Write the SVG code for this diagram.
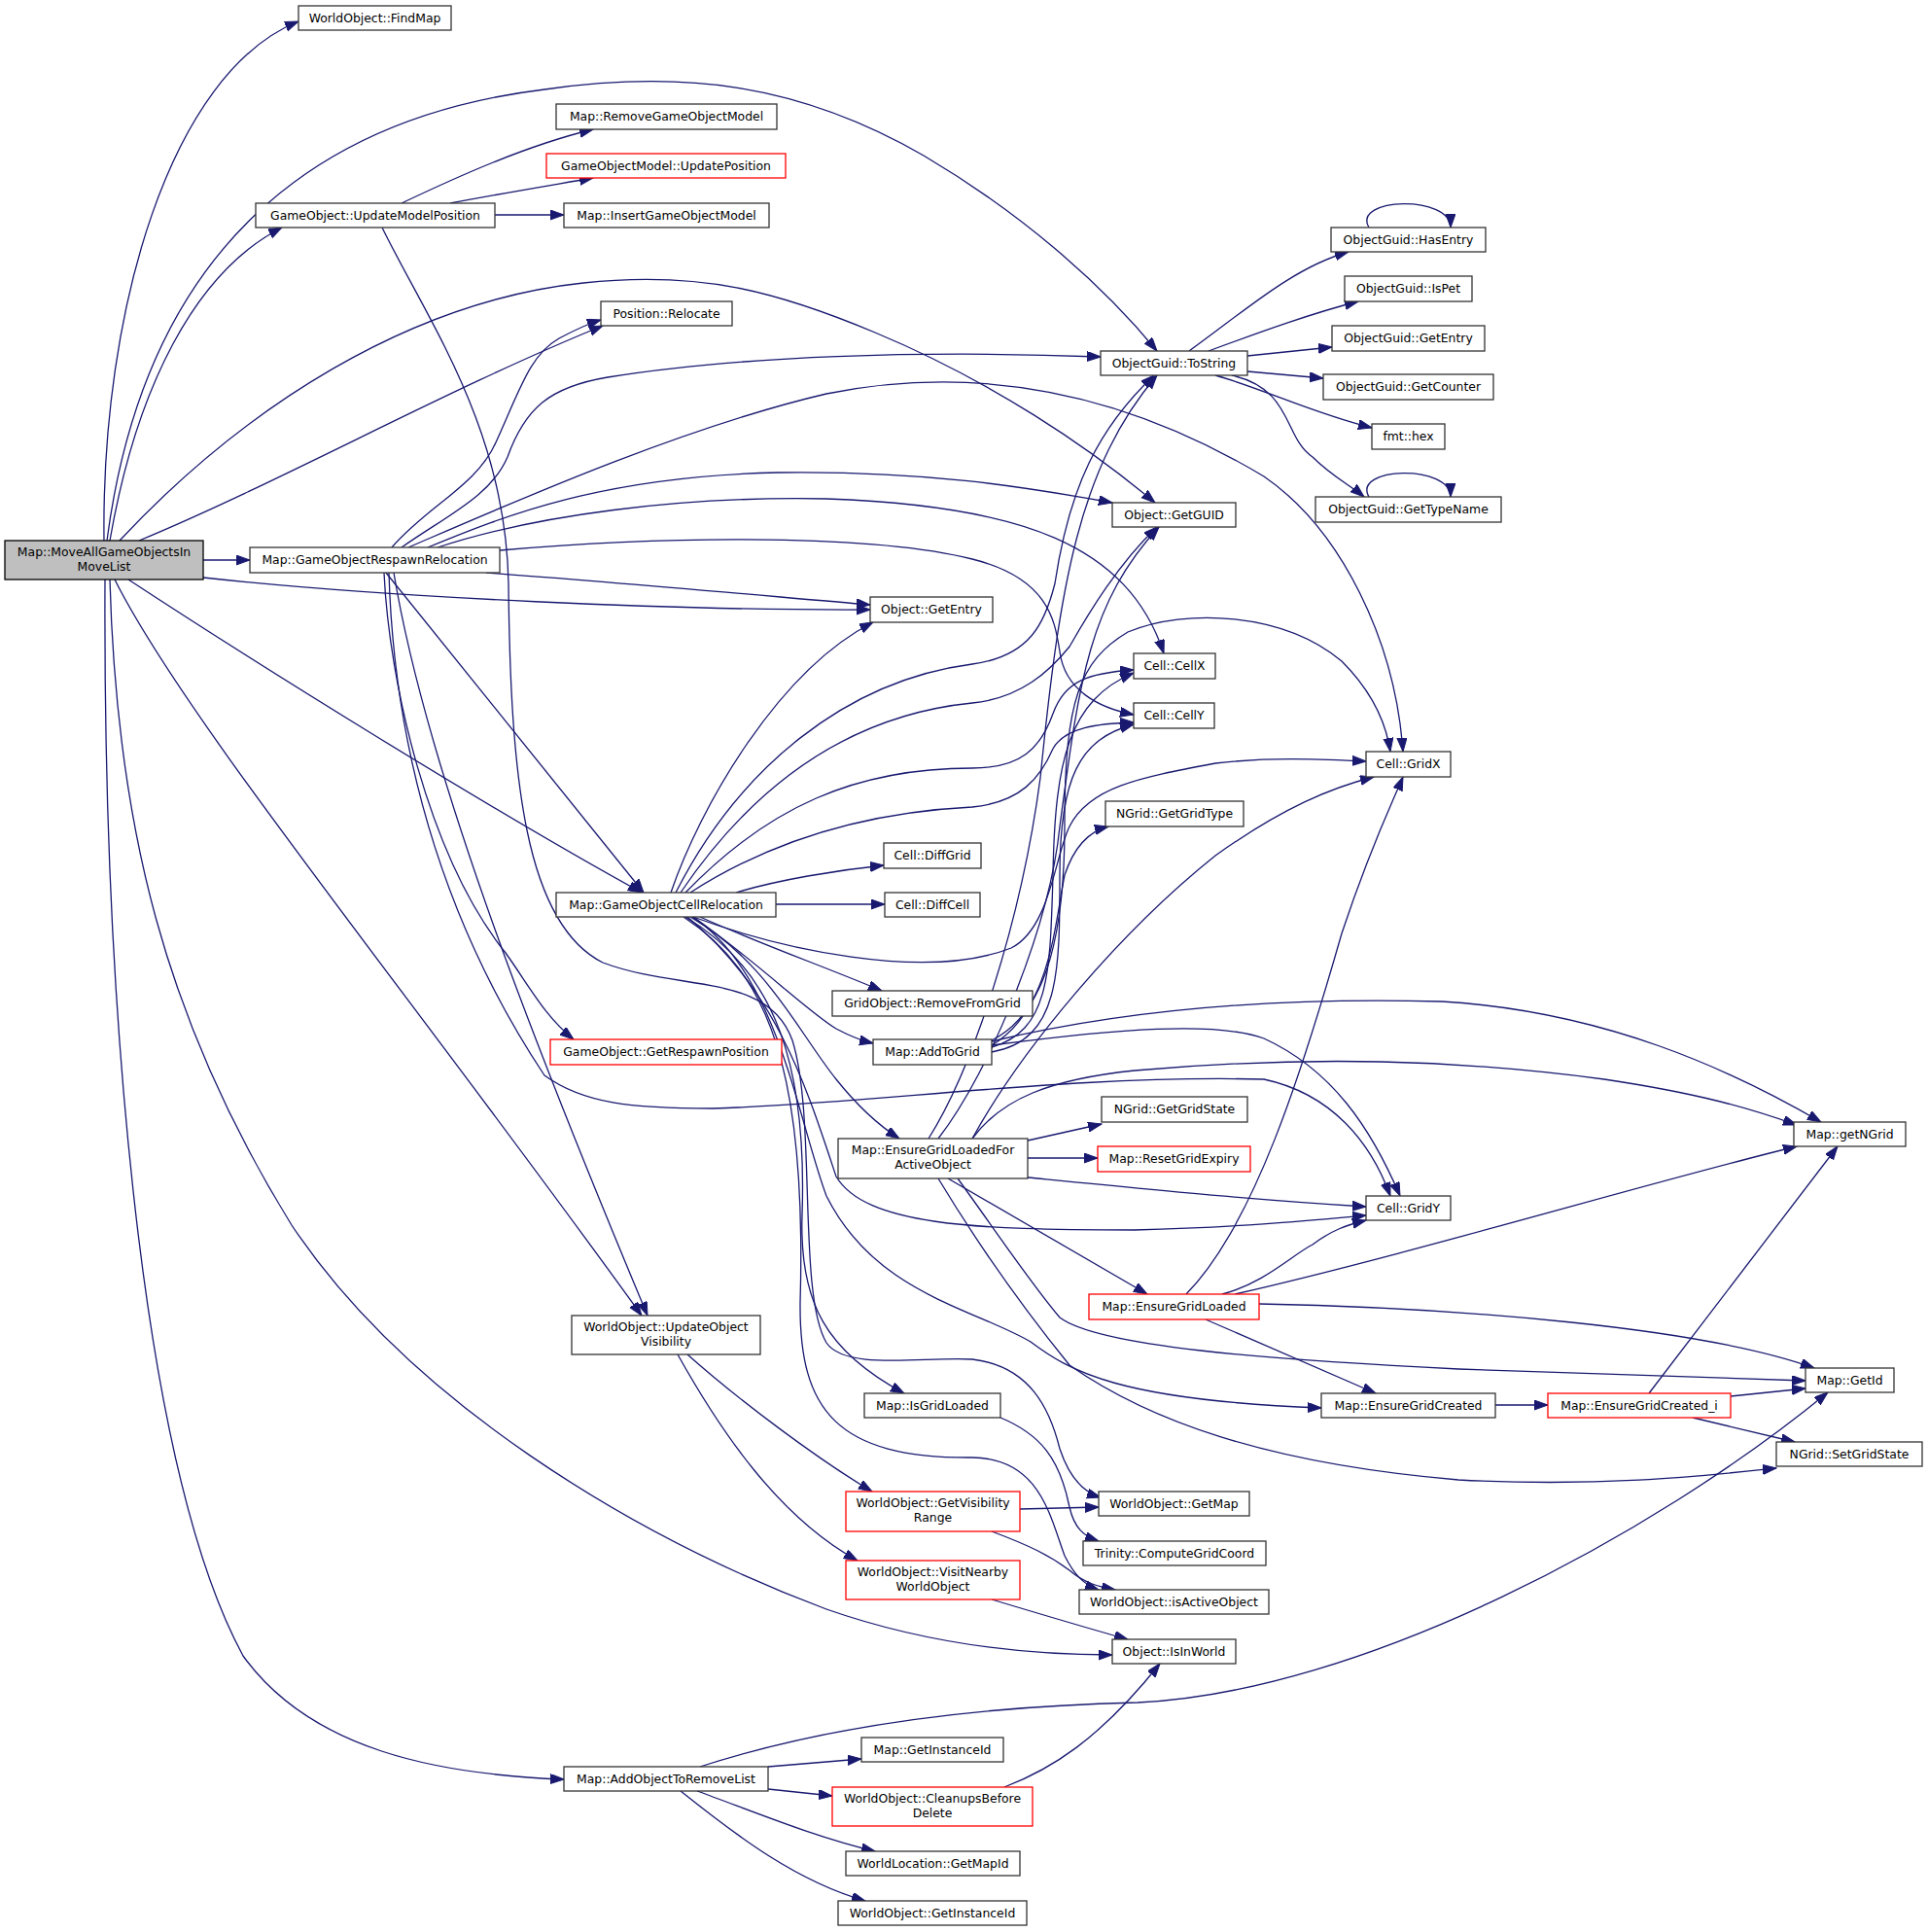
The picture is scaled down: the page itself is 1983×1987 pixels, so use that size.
<svg xmlns="http://www.w3.org/2000/svg" width="1983" height="1987" viewBox="0 0 1983 1987">
<style>
.b{fill:#fff;stroke:#333;stroke-width:1.3}
.r{fill:#fff;stroke:#ff0000;stroke-width:1.3}
.root{fill:#bfbfbf;stroke:#000;stroke-width:1.3}
text{font-family:"DejaVu Sans","Liberation Sans",sans-serif;font-size:12.4px;text-anchor:middle;fill:#000}
#edges path{fill:none;stroke:#191970;stroke-width:1.3;marker-end:url(#a)}
</style>
<defs>
<marker id="a" markerWidth="15" markerHeight="11" refX="14" refY="5" orient="auto" markerUnits="userSpaceOnUse"><path d="M0,0 L14,5 L0,10 z" fill="#191970" stroke="#191970" stroke-width="1"/></marker>
</defs>
<rect x="0" y="0" width="1983" height="1987" fill="#fff"/>
<g id="edges">
<path d="M107,556 C104,320 175,75 307,22"/>
<path d="M110,556 C150,250 330,120 560,92 C700,72 820,85 950,160 C1060,225 1140,300 1190,361"/>
<path d="M113,556 C140,400 200,280 290,234"/>
<path d="M123,556 C250,420 420,310 600,291 C720,278 800,300 900,342 C1020,392 1120,460 1188,517"/>
<path d="M143,556 C290,495 460,400 620,335"/>
<path d="M209,576 L257,576"/>
<path d="M209,594 C400,615 700,628 895,627"/>
<path d="M132,596 C260,680 500,830 660,918"/>
<path d="M118,596 C190,740 420,1020 660,1353"/>
<path d="M113,596 C120,850 170,1050 300,1260 C420,1440 650,1580 850,1655 C950,1690 1050,1702 1144,1702"/>
<path d="M108,596 C106,1000 140,1500 250,1703 C320,1800 450,1825 580,1830"/>
<path d="M413,209 C470,182 540,150 610,133"/>
<path d="M463,209 C510,200 570,190 610,183"/>
<path d="M509,221 L580,221"/>
<path d="M393,234 C440,330 520,440 523,600 C525,800 540,950 620,990 C700,1020 790,1000 815,1070 C840,1150 820,1330 850,1381 C870,1410 950,1395 1000,1398 C1060,1405 1080,1450 1090,1490 C1100,1520 1115,1535 1132,1540"/>
<path d="M403,563 C440,520 490,500 510,455 C535,400 545,365 575,348 C590,340 605,333 618,329"/>
<path d="M413,563 C460,530 505,510 522,470 C540,420 565,398 625,388 C760,366 950,360 1132,367"/>
<path d="M420,563 C520,520 700,440 850,405 C1000,375 1150,400 1300,490 C1380,545 1435,660 1443,773"/>
<path d="M440,563 C520,530 620,490 800,486 C950,484 1050,500 1144,517"/>
<path d="M450,563 C550,530 700,510 850,513 C1050,520 1160,560 1197,672"/>
<path d="M514,566 C700,550 900,550 1000,575 C1080,595 1085,640 1090,670 C1095,710 1130,728 1166,735"/>
<path d="M500,589 C650,600 800,614 895,622"/>
<path d="M397,589 L662,918"/>
<path d="M395,589 C400,700 440,880 520,980 C545,1015 560,1045 590,1069"/>
<path d="M405,589 C440,800 560,1100 666,1353"/>
<path d="M400,589 C405,760 450,940 560,1106 C600,1135 650,1140 733,1140 C900,1135 1100,1105 1300,1110 C1370,1125 1410,1175 1430,1230"/>
<path d="M690,918 C720,830 800,690 898,640"/>
<path d="M695,918 C760,790 870,700 1000,683 C1060,675 1075,640 1085,600 C1100,500 1130,440 1187,386"/>
<path d="M700,918 C780,800 880,735 1000,723 C1050,718 1080,690 1100,665 C1120,630 1150,580 1190,542"/>
<path d="M705,918 C790,830 880,790 1000,790 C1050,790 1070,770 1083,734 C1095,700 1120,692 1166,689"/>
<path d="M710,918 C800,860 900,835 1000,830 C1050,825 1070,800 1083,770 C1095,748 1130,744 1166,743"/>
<path d="M713,943 C800,975 950,1010 1040,975 C1080,955 1085,880 1100,850 C1120,810 1170,800 1250,785 C1310,778 1360,781 1405,783"/>
<path d="M757,918 C800,905 860,895 909,890"/>
<path d="M798,930 L910,930"/>
<path d="M720,943 C780,970 850,995 907,1019"/>
<path d="M713,943 C780,990 830,1040 860,1058 C875,1066 885,1070 898,1073"/>
<path d="M710,943 C790,990 820,1060 860,1110 C880,1135 900,1155 925,1171"/>
<path d="M707,943 C800,1020 830,1120 860,1210 C890,1260 1000,1265 1167,1265 C1280,1262 1350,1255 1405,1250"/>
<path d="M705,943 C800,1000 830,1100 825,1250 C822,1340 850,1390 930,1433"/>
<path d="M703,943 C790,1000 830,1100 823,1340 C822,1450 860,1500 1000,1499 C1070,1500 1080,1560 1095,1600 C1105,1620 1115,1630 1130,1635"/>
<path d="M712,943 C800,1000 820,1150 850,1230 C900,1330 1000,1345 1060,1380 C1100,1410 1150,1440 1359,1448"/>
<path d="M1020,1077 C1080,1060 1080,1000 1083,900 C1085,780 1100,720 1166,692"/>
<path d="M1020,1082 C1090,1070 1090,1000 1090,900 C1090,800 1110,760 1166,745"/>
<path d="M1020,1070 C1080,1040 1095,950 1095,850 C1095,720 1110,680 1160,650 C1220,625 1320,630 1380,680 C1410,710 1425,740 1430,773"/>
<path d="M1020,1075 C1080,1040 1085,950 1095,900 C1105,870 1120,855 1140,850"/>
<path d="M1020,1071 C1150,1040 1300,1025 1483,1030 C1650,1040 1780,1100 1873,1154"/>
<path d="M1020,1075 C1150,1058 1250,1050 1300,1068 C1370,1100 1410,1160 1440,1230"/>
<path d="M955,1171 C1000,1100 1050,950 1070,800 C1090,600 1110,480 1190,386"/>
<path d="M965,1171 C1020,1100 1080,950 1090,850 C1110,700 1120,620 1192,542"/>
<path d="M1000,1171 C1050,1080 1150,960 1250,880 C1320,830 1370,810 1413,799"/>
<path d="M1000,1171 C1030,1130 1080,1110 1167,1101 C1350,1085 1500,1090 1650,1110 C1750,1125 1800,1140 1848,1157"/>
<path d="M1057,1173 L1133,1156"/>
<path d="M1057,1191 L1129,1191"/>
<path d="M1057,1211 C1200,1225 1300,1235 1405,1241"/>
<path d="M975,1212 L1180,1331"/>
<path d="M985,1212 C1020,1260 1060,1320 1090,1355 C1130,1385 1300,1398 1500,1408 C1650,1414 1780,1418 1857,1420"/>
<path d="M965,1212 C1000,1270 1040,1330 1100,1404 C1180,1460 1300,1505 1500,1522 C1650,1530 1760,1517 1827,1510"/>
<path d="M1220,1331 C1290,1260 1340,1100 1380,960 C1410,870 1430,830 1443,799"/>
<path d="M1257,1331 C1300,1320 1330,1290 1350,1280 C1370,1265 1385,1260 1405,1255"/>
<path d="M1270,1331 C1450,1290 1700,1215 1848,1179"/>
<path d="M1295,1341 C1500,1345 1750,1365 1866,1407"/>
<path d="M1240,1357 L1415,1433"/>
<path d="M1538,1445 L1592,1445"/>
<path d="M1780,1436 L1857,1428"/>
<path d="M1741,1458 L1846,1483"/>
<path d="M1696,1433 L1890,1179"/>
<path d="M707,1393 C760,1440 840,1500 897,1534"/>
<path d="M697,1393 C740,1470 800,1560 882,1605"/>
<path d="M1049,1552 L1130,1550"/>
<path d="M1020,1575 C1060,1590 1080,1600 1100,1615 C1115,1628 1130,1632 1147,1635"/>
<path d="M1020,1645 C1070,1660 1120,1675 1160,1686"/>
<path d="M1029,1458 C1070,1475 1090,1500 1100,1550 C1105,1572 1115,1580 1130,1585"/>
<path d="M1033,1838 C1080,1820 1130,1790 1193,1711"/>
<path d="M790,1817 L886,1809"/>
<path d="M790,1840 L856,1847"/>
<path d="M717,1842 C780,1865 840,1890 900,1904"/>
<path d="M700,1842 C760,1890 820,1935 890,1955"/>
<path d="M720,1817 C850,1775 1000,1755 1170,1751 C1400,1740 1700,1580 1880,1432"/>
<path d="M1223,361 C1280,320 1330,275 1387,259"/>
<path d="M1243,361 C1300,340 1350,322 1397,310"/>
<path d="M1283,366 L1370,357"/>
<path d="M1283,382 L1361,389"/>
<path d="M1250,386 C1300,400 1350,425 1411,440"/>
<path d="M1267,386 C1330,400 1320,450 1350,470 C1370,490 1390,500 1403,511"/>
<path d="M1408,234 C1390,203 1492,200 1492,234"/>
<path d="M1408,511 C1390,480 1492,477 1492,511"/>
</g>
<g id="n0"><rect class="root" x="5" y="556" width="204" height="40"/><text x="107" y="571.5">Map::MoveAllGameObjectsIn</text><text x="107" y="586.5">MoveList</text></g>
<g id="n1"><rect class="b" x="307" y="6" width="157" height="25"/><text x="385.5" y="22.9">WorldObject::FindMap</text></g>
<g id="n2"><rect class="b" x="263" y="209" width="246" height="25"/><text x="386" y="225.9">GameObject::UpdateModelPosition</text></g>
<g id="n3"><rect class="b" x="572" y="107" width="227" height="26"/><text x="685.5" y="124.4">Map::RemoveGameObjectModel</text></g>
<g id="n4"><rect class="r" x="562" y="158" width="246" height="25"/><text x="685" y="174.9">GameObjectModel::UpdatePosition</text></g>
<g id="n5"><rect class="b" x="580" y="209" width="211" height="25"/><text x="685.5" y="225.9">Map::InsertGameObjectModel</text></g>
<g id="n6"><rect class="b" x="618" y="310" width="135" height="25"/><text x="685.5" y="326.9">Position::Relocate</text></g>
<g id="n7"><rect class="b" x="1132" y="361" width="151" height="25"/><text x="1207.5" y="377.9">ObjectGuid::ToString</text></g>
<g id="n8"><rect class="b" x="1369" y="234" width="159" height="25"/><text x="1448.5" y="250.9">ObjectGuid::HasEntry</text></g>
<g id="n9"><rect class="b" x="1383" y="284" width="131" height="26"/><text x="1448.5" y="301.4">ObjectGuid::IsPet</text></g>
<g id="n10"><rect class="b" x="1370" y="335" width="157" height="26"/><text x="1448.5" y="352.4">ObjectGuid::GetEntry</text></g>
<g id="n11"><rect class="b" x="1361" y="385" width="175" height="26"/><text x="1448.5" y="402.4">ObjectGuid::GetCounter</text></g>
<g id="n12"><rect class="b" x="1411" y="436" width="75" height="26"/><text x="1448.5" y="453.4">fmt::hex</text></g>
<g id="n13"><rect class="b" x="1353" y="511" width="191" height="26"/><text x="1448.5" y="528.4">ObjectGuid::GetTypeName</text></g>
<g id="n14"><rect class="b" x="1144" y="517" width="127" height="25"/><text x="1207.5" y="533.9">Object::GetGUID</text></g>
<g id="n15"><rect class="b" x="257" y="563" width="257" height="26"/><text x="385.5" y="580.4">Map::GameObjectRespawnRelocation</text></g>
<g id="n16"><rect class="b" x="895" y="614" width="126" height="26"/><text x="958" y="631.4">Object::GetEntry</text></g>
<g id="n17"><rect class="b" x="1166" y="672" width="84" height="26"/><text x="1208" y="689.4">Cell::CellX</text></g>
<g id="n18"><rect class="b" x="1166" y="723" width="83" height="26"/><text x="1207.5" y="740.4">Cell::CellY</text></g>
<g id="n19"><rect class="b" x="1405" y="773" width="87" height="26"/><text x="1448.5" y="790.4">Cell::GridX</text></g>
<g id="n20"><rect class="b" x="1137" y="824" width="142" height="26"/><text x="1208" y="841.4">NGrid::GetGridType</text></g>
<g id="n21"><rect class="b" x="909" y="867" width="100" height="26"/><text x="959" y="884.4">Cell::DiffGrid</text></g>
<g id="n22"><rect class="b" x="572" y="918" width="226" height="25"/><text x="685" y="934.9">Map::GameObjectCellRelocation</text></g>
<g id="n23"><rect class="b" x="910" y="918" width="98" height="25"/><text x="959" y="934.9">Cell::DiffCell</text></g>
<g id="n24"><rect class="b" x="856" y="1019" width="206" height="26"/><text x="959" y="1036.4">GridObject::RemoveFromGrid</text></g>
<g id="n25"><rect class="b" x="898" y="1069" width="122" height="26"/><text x="959" y="1086.4">Map::AddToGrid</text></g>
<g id="n26"><rect class="r" x="566" y="1069" width="238" height="26"/><text x="685" y="1086.4">GameObject::GetRespawnPosition</text></g>
<g id="n27"><rect class="b" x="1133" y="1128" width="150" height="26"/><text x="1208" y="1145.4">NGrid::GetGridState</text></g>
<g id="n28"><rect class="b" x="1845" y="1154" width="115" height="25"/><text x="1902.5" y="1170.9">Map::getNGrid</text></g>
<g id="n29"><rect class="b" x="862" y="1171" width="195" height="41"/><text x="959.5" y="1186.5">Map::EnsureGridLoadedFor</text><text x="959.5" y="1201.5">ActiveObject</text></g>
<g id="n30"><rect class="r" x="1129" y="1179" width="157" height="26"/><text x="1207.5" y="1196.4">Map::ResetGridExpiry</text></g>
<g id="n31"><rect class="b" x="1405" y="1230" width="87" height="25"/><text x="1448.5" y="1246.9">Cell::GridY</text></g>
<g id="n32"><rect class="r" x="1120" y="1331" width="175" height="26"/><text x="1207.5" y="1348.4">Map::EnsureGridLoaded</text></g>
<g id="n33"><rect class="b" x="588" y="1353" width="194" height="40"/><text x="685" y="1368.5">WorldObject::UpdateObject</text><text x="685" y="1383.5">Visibility</text></g>
<g id="n34"><rect class="b" x="1857" y="1407" width="91" height="25"/><text x="1902.5" y="1423.9">Map::GetId</text></g>
<g id="n35"><rect class="b" x="889" y="1433" width="140" height="25"/><text x="959" y="1449.9">Map::IsGridLoaded</text></g>
<g id="n36"><rect class="b" x="1359" y="1433" width="179" height="25"/><text x="1448.5" y="1449.9">Map::EnsureGridCreated</text></g>
<g id="n37"><rect class="r" x="1592" y="1433" width="188" height="25"/><text x="1686" y="1449.9">Map::EnsureGridCreated_i</text></g>
<g id="n38"><rect class="b" x="1827" y="1483" width="150" height="25"/><text x="1902" y="1499.9">NGrid::SetGridState</text></g>
<g id="n39"><rect class="r" x="870" y="1534" width="179" height="41"/><text x="959.5" y="1549.5">WorldObject::GetVisibility</text><text x="959.5" y="1564.5">Range</text></g>
<g id="n40"><rect class="b" x="1130" y="1534" width="155" height="25"/><text x="1207.5" y="1550.9">WorldObject::GetMap</text></g>
<g id="n41"><rect class="b" x="1114" y="1585" width="188" height="25"/><text x="1208" y="1601.9">Trinity::ComputeGridCoord</text></g>
<g id="n42"><rect class="r" x="870" y="1605" width="179" height="40"/><text x="959.5" y="1620.5">WorldObject::VisitNearby</text><text x="959.5" y="1635.5">WorldObject</text></g>
<g id="n43"><rect class="b" x="1110" y="1635" width="195" height="25"/><text x="1207.5" y="1651.9">WorldObject::isActiveObject</text></g>
<g id="n44"><rect class="b" x="1144" y="1686" width="127" height="25"/><text x="1207.5" y="1702.9">Object::IsInWorld</text></g>
<g id="n45"><rect class="b" x="886" y="1787" width="146" height="25"/><text x="959" y="1803.9">Map::GetInstanceId</text></g>
<g id="n46"><rect class="b" x="580" y="1817" width="210" height="25"/><text x="685" y="1833.9">Map::AddObjectToRemoveList</text></g>
<g id="n47"><rect class="r" x="856" y="1838" width="206" height="40"/><text x="959" y="1853.5">WorldObject::CleanupsBefore</text><text x="959" y="1868.5">Delete</text></g>
<g id="n48"><rect class="b" x="870" y="1904" width="179" height="25"/><text x="959.5" y="1920.9">WorldLocation::GetMapId</text></g>
<g id="n49"><rect class="b" x="862" y="1955" width="194" height="25"/><text x="959" y="1971.9">WorldObject::GetInstanceId</text></g>
</svg>
